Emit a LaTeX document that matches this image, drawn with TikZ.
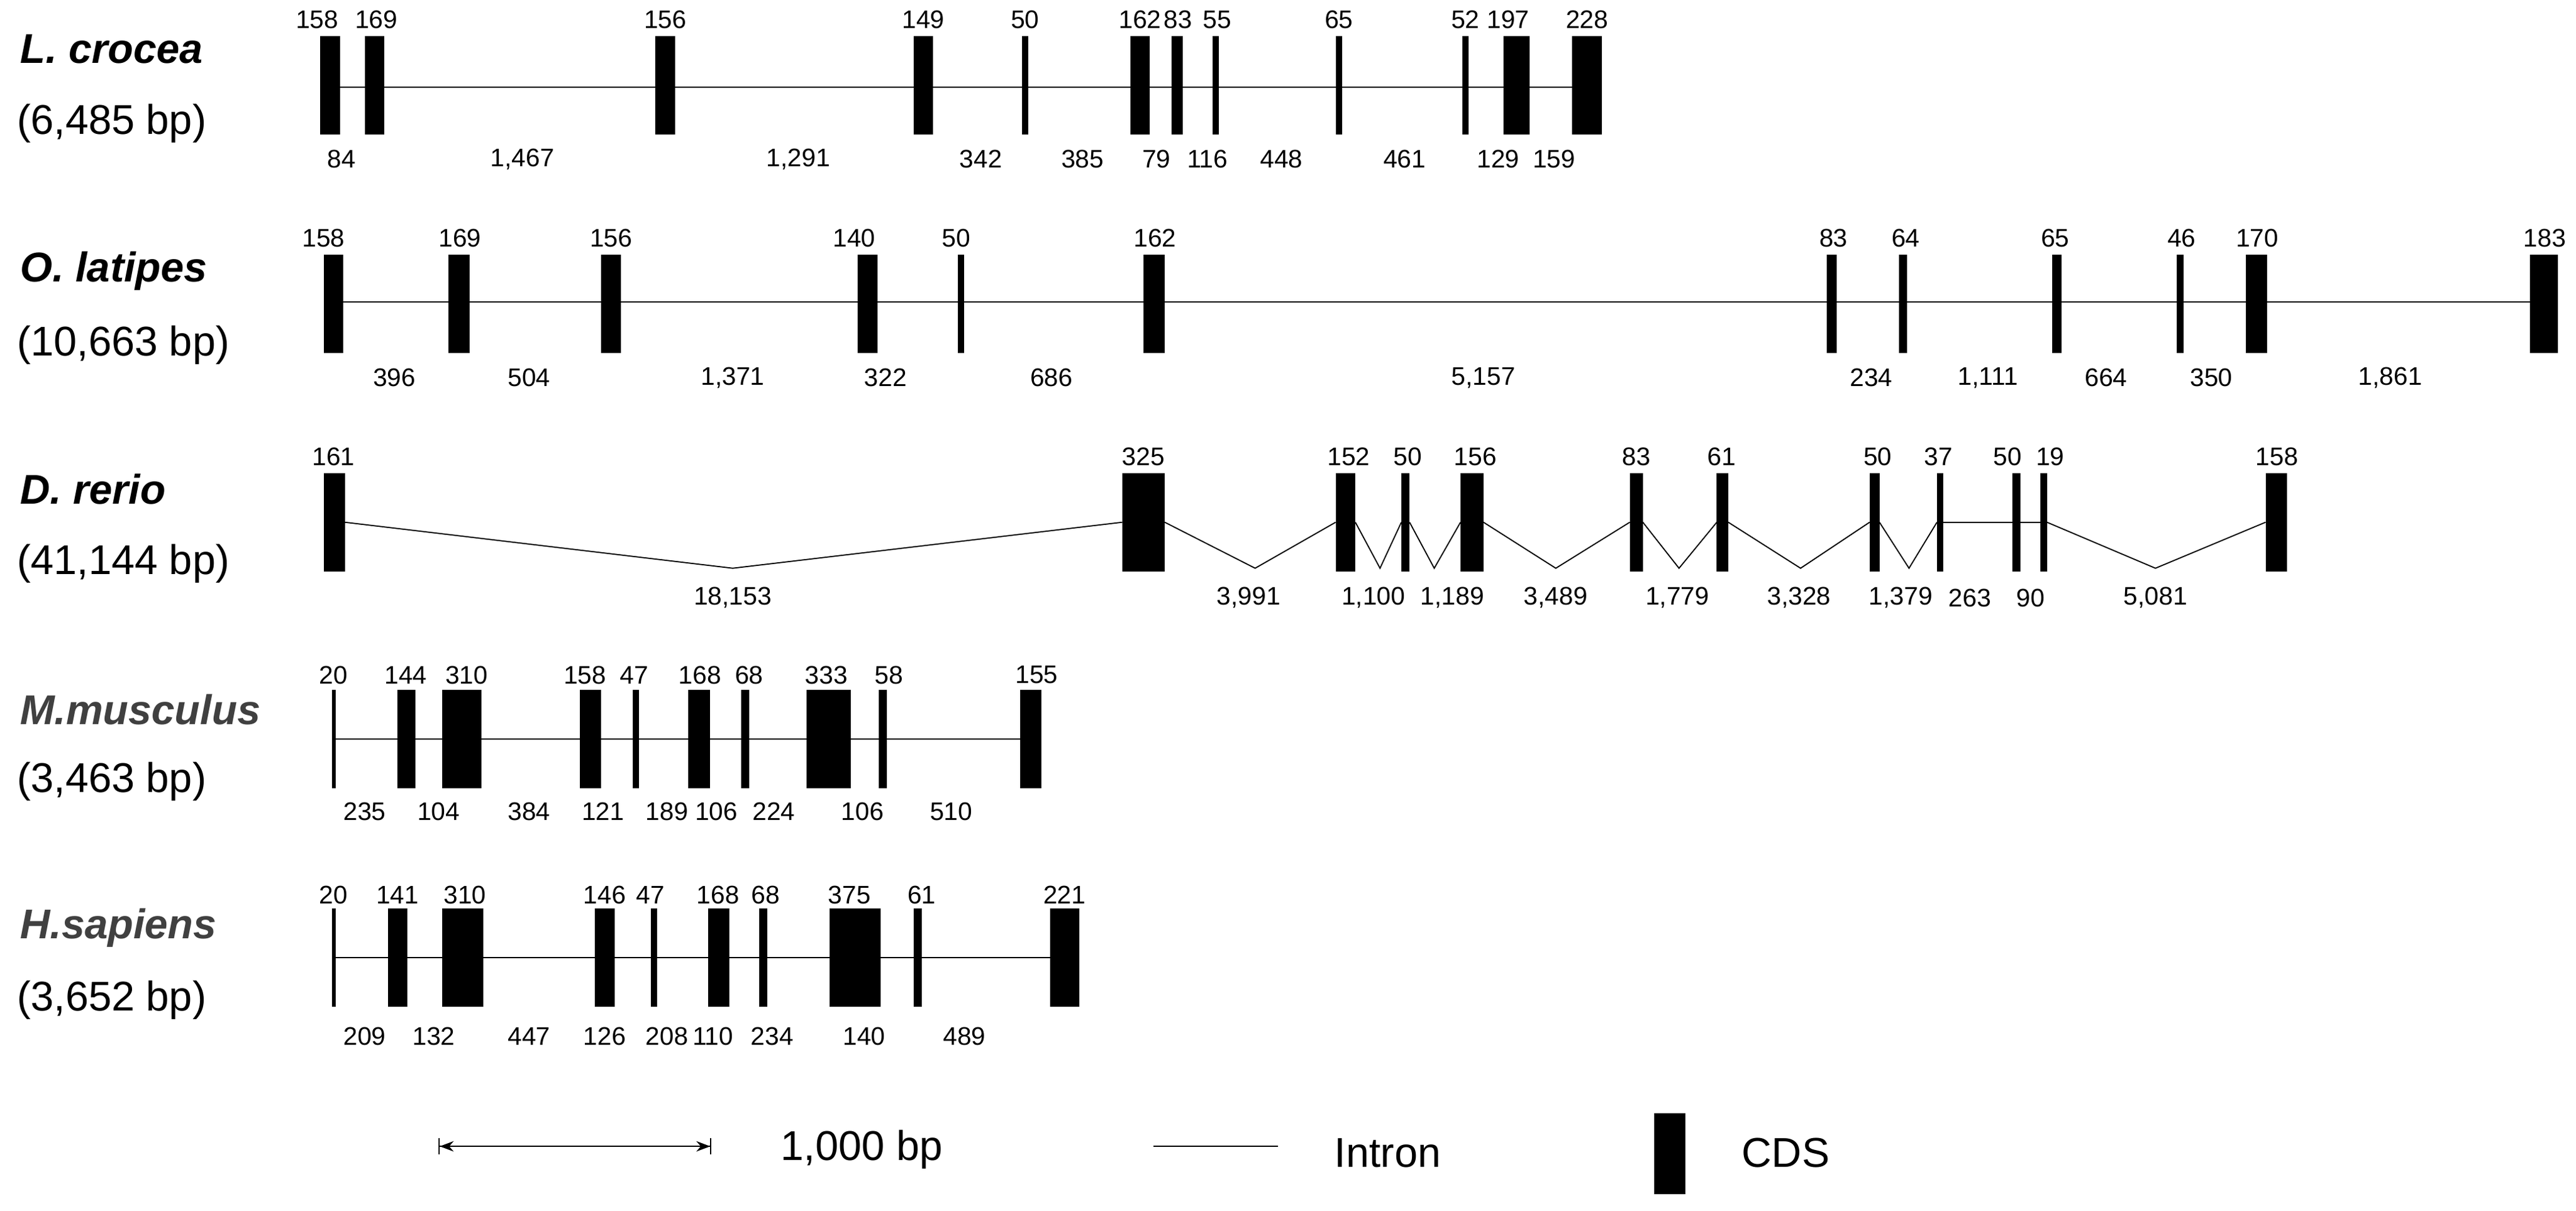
\documentclass[tikz,border=0pt]{standalone}
\usepackage{fontspec}
\setmainfont{Liberation Sans}
\usetikzlibrary{arrows.meta}
\tikzset{exon/.style={fill=black,draw=none},intr/.style={line width=0.5pt},
num/.style={font=\fontsize{11}{12}\selectfont,inner sep=0pt},
sp/.style={font=\fontsize{18}{20}\selectfont\bfseries\itshape,anchor=west,inner sep=0pt},
len/.style={font=\fontsize{18}{20}\selectfont,anchor=west,inner sep=0pt}}
\begin{document}
\begin{tikzpicture}[x=0.25mm,y=-0.25mm]
\useasboundingbox (0,0) rectangle (1568,737);
% row 1
\node[sp] (s1) at (12,30) {L. crocea};
\node[len] (l1) at (10,75) {(6,485 bp)};
\draw[intr] (201,53) -- (966,53);
\foreach \a/\b in {195/207,222/234,399/411,556/568,622/626,688/700,713/720,738/742,813/817,890/894,915/931,957/975}
  \fill[exon] (\a,22) rectangle (\b,82);
\foreach \x/\t in {193/158,229/169,405/156,562/149,624/50,694/162,717/83,741/55,815/65,892/52,918/197,966/228}
  \node[num] at (\x,12) {\t};
\foreach \x/\t in {208/84,318/{1,467},486/{1,291},597/342,659/385,704/79,735/116,780/448,855/461,912/129,946/159}
  \node[num] at (\x,97) {\t};
% row 2
\node[sp] (s2) at (12,165) {O. latipes};
\node[len] (l2) at (10,210) {(10,663 bp)};
\draw[intr] (203,184) -- (1549,184);
\foreach \a/\b in {197/209,273/286,366/378,522/534,583/587,696/709,1112/1118,1156/1161,1249/1255,1325/1329,1367/1380,1540/1557}
  \fill[exon] (\a,155) rectangle (\b,215);
\foreach \x/\t in {197/158,280/169,372/156,520/140,582/50,703/162,1116/83,1160/64,1251/65,1328/46,1374/170,1549/183}
  \node[num] at (\x,145) {\t};
\foreach \x/\t in {240/396,322/504,446/{1,371},539/322,640/686,903/{5,157},1139/234,1210/{1,111},1282/664,1346/350,1455/{1,861}}
  \node[num] at (\x,230) {\t};
% row 3
\node[sp] (s3) at (12,298) {D. rerio};
\node[len] (l3) at (10,343) {(41,144 bp)};
\foreach \a/\b in {197/210,683/709,813/825,853/858,889/903,992/1000,1045/1052,1138/1144,1179/1183,1225/1230,1242/1246,1379/1392}
  \fill[exon] (\a,288) rectangle (\b,348);
\draw[intr] (210,318) -- (446,346) -- (683,318);
\draw[intr] (709,318) -- (764,346) -- (813,318);
\draw[intr] (825,318) -- (840,346) -- (853,318);
\draw[intr] (858,318) -- (873,346) -- (889,318);
\draw[intr] (903,318) -- (947,346) -- (992,318);
\draw[intr] (1000,318) -- (1022,346) -- (1045,318);
\draw[intr] (1052,318) -- (1096,346) -- (1138,318);
\draw[intr] (1144,318) -- (1162,346) -- (1179,318);
\draw[intr] (1183,318) -- (1225,318);
\draw[intr] (1230,318) -- (1242,318);
\draw[intr] (1246,318) -- (1312,346) -- (1379,318);
\foreach \x/\t in {203/161,696/325,821/152,857/50,898/156,996/83,1048/61,1143/50,1180/37,1222/50,1248/19,1386/158}
  \node[num] at (\x,278) {\t};
\foreach \x/\t in {446/{18,153},760/{3,991},836/{1,100},884/{1,189},947/{3,489},1021/{1,779},1095/{3,328},1157/{1,379},1199/263,1236/90,1312/{5,081}}
  \node[num] at (\x,364) {\t};
% row 4
\node[sp,text=black!75] (s4) at (12,432) {M.musculus};
\node[len] (l4) at (10,476) {(3,463 bp)};
\draw[intr] (203,450) -- (627,450);
\foreach \a/\b in {202/204.5,242/253,269/293,353/366,385/389,419/432,451/456,491/518,535/540,621/634}
  \fill[exon] (\a,420) rectangle (\b,480);
\foreach \x/\t in {203/20,247/144,284/310,356/158,386/47,426/168,456/68,503/333,541/58,631/155}
  \node[num] at (\x,411) {\t};
\foreach \x/\t in {222/235,267/104,322/384,367/121,406/189,436/106,471/224,525/106,579/510}
  \node[num] at (\x,494) {\t};
% row 5
\node[sp,text=black!75] (s5) at (12,565) {H.sapiens};
\node[len] (l5) at (10,609) {(3,652 bp)};
\draw[intr] (203,583) -- (648,583);
\foreach \a/\b in {202/204.5,236/248,269/294,362/374,396/400,431/444,462/467,505/536,556/561,639/657}
  \fill[exon] (\a,553) rectangle (\b,613);
\foreach \x/\t in {203/20,242/141,283/310,368/146,396/47,437/168,466/68,517/375,561/61,648/221}
  \node[num] at (\x,545) {\t};
\foreach \x/\t in {222/209,264/132,322/447,368/126,406/208,434/110,470/234,526/140,587/489}
  \node[num] at (\x,631) {\t};
% legend
\coordinate (b1) at (267,698); \coordinate (b2) at (433,698);
\draw[intr,{Bar[width=7pt]Stealth[length=6pt]}-{Stealth[length=6pt]Bar[width=7pt]}] (b1) -- (b2);
\node[len] (kb) at (475,700) {1,000 bp};
\coordinate (i1) at (702,698); \coordinate (i2) at (778,698);
\draw[intr] (i1) -- (i2);
\node[len] (it) at (812,702) {Intron};
\fill[exon] (1007,678) rectangle (1026,727);
\node[len] (cd) at (1060,702) {CDS};
\end{tikzpicture}
\end{document}
